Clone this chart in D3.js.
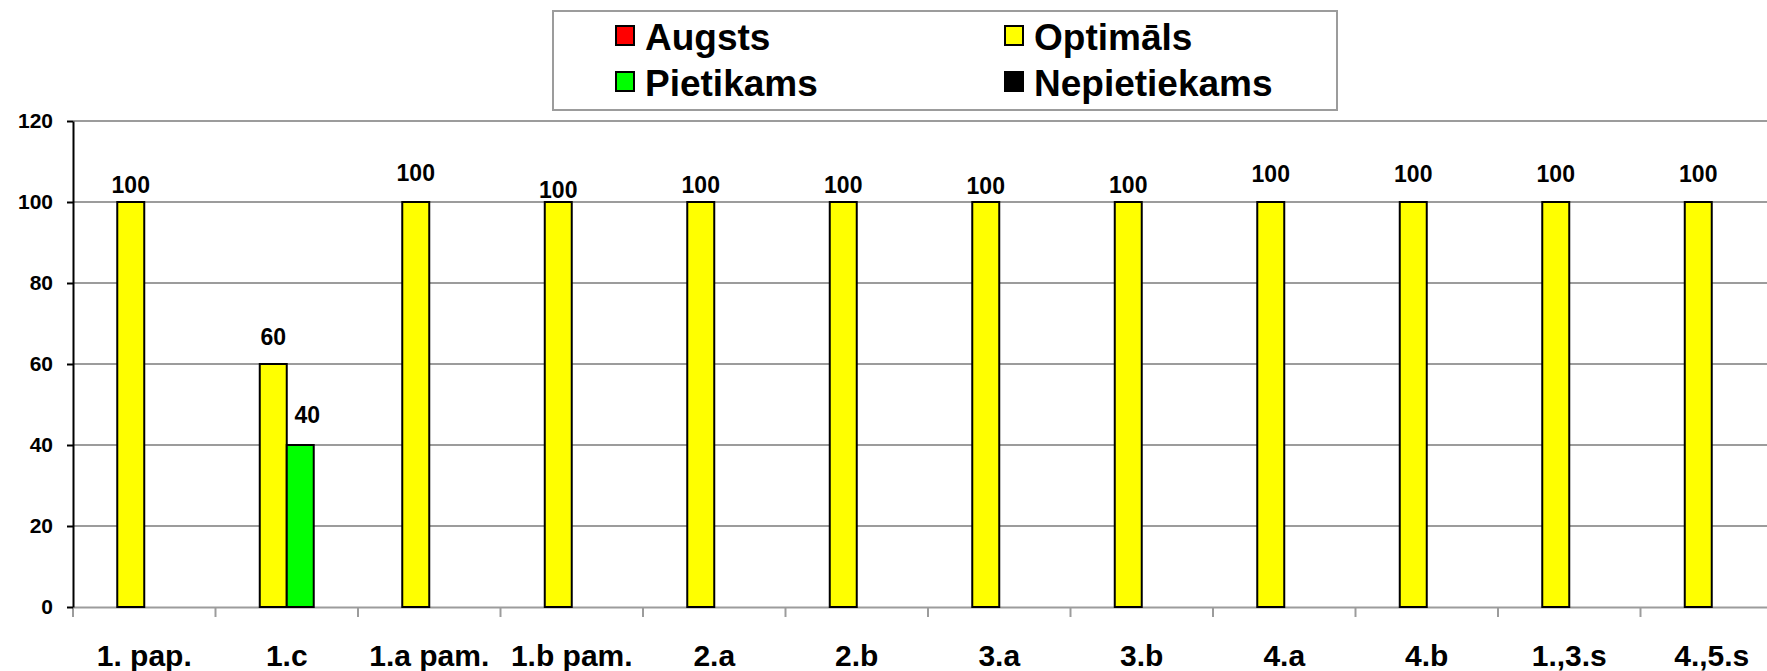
<!DOCTYPE html>
<html>
<head>
<meta charset="utf-8">
<script src="https://cdn.jsdelivr.net/npm/d3@7/dist/d3.min.js"></script>
<style>
  body { margin: 0; background: #fff; }
  text { font-family: "Liberation Sans", Arial, sans-serif; font-weight: bold; fill: #000; }
</style>
</head>
<body>
<div id="chart"></div>
<script>
// categories and the four series
var categories = ["1. pap.", "1.c", "1.a pam.", "1.b pam.", "2.a", "2.b", "3.a", "3.b", "4.a", "4.b", "1.,3.s", "4.,5.s"];
var seriesNames = ["Augsts", "Optimāls", "Pietikams", "Nepietiekams"];
var seriesColors = ["#ff0000", "#ffff00", "#00ff00", "#000000"];

var augsts = [null, null, null, null, null, null, null, null, null, null, null, null];
var optimals = [100, 60, 100, 100, 100, 100, 100, 100, 100, 100, 100, 100];
var pietikams = [null, 40, null, null, null, null, null, null, null, null, null, null];
var nepietiekams = [null, null, null, null, null, null, null, null, null, null, null, null];

var yTicks = [0, 20, 40, 60, 80, 100, 120];

// the data labels were dragged by hand in the original, so each has its own lift
var liftOptimals = [9, 19, 21, 4, 9, 9, 8, 9, 20, 20, 20, 20];
var liftPietikams = [0, 22, 0, 0, 0, 0, 0, 0, 0, 0, 0, 0];

const width = 1767;
const height = 671;
const plot = {left: 73, top: 121, bottom: 607, step: 142.5};

var values = [augsts, optimals, pietikams, nepietiekams];
var lifts = [null, liftOptimals, liftPietikams, null];

var svg = d3.select("#chart")
    .append("svg")
    .attr("width", width)
    .attr("height", height);

// x-schaal voor de groepen en binnen elke groep
var xScale = d3.scaleBand()
    .domain(categories)
    .range([plot.left, plot.left + plot.step * categories.length]);

var xInner = d3.scaleBand()
    .domain(seriesNames)
    .range([0, xScale.bandwidth()])
    .paddingInner(0)
    .paddingOuter(0.64);

var yScale = d3.scaleLinear()
    .domain([0, 120])
    .range([plot.bottom, plot.top]);

// horizontal gridlines
svg.append("g")
    .attr("class", "grid")
    .selectAll("line")
    .data(yTicks.filter(function(d) { return d > 0; }))
    .enter()
    .append("line")
    .attr("x1", plot.left)
    .attr("x2", xScale.range()[1])
    .attr("y1", function(d) { return yScale(d); })
    .attr("y2", function(d) { return yScale(d); })
    .attr("stroke", "#9c9c9c")
    .attr("stroke-width", 2);

// x axis: grey line, ticks on the category borders, labels in the middle
var xAxis = svg.append("g")
    .attr("class", "x-axis")
    .attr("transform", "translate(0," + plot.bottom + ")")
    .call(d3.axisBottom(xScale).tickSize(0).tickSizeOuter(0));

xAxis.select(".domain")
    .attr("stroke", "#9c9c9c")
    .attr("stroke-width", 2);

xAxis.selectAll("text")
    .attr("y", 59)
    .attr("dy", 0)
    .style("font-size", "30px");

xAxis.selectAll("line.border")
    .data(categories.map(function(d) { return xScale(d); }).concat([xScale.range()[1]]))
    .enter()
    .append("line")
    .attr("class", "border")
    .attr("x1", function(d) { return d; })
    .attr("x2", function(d) { return d; })
    .attr("y1", 0)
    .attr("y2", 10)
    .attr("stroke", "#9c9c9c")
    .attr("stroke-width", 2);

// bars
var bars = [];
values.forEach(function(serie, i) {
  serie.forEach(function(v, j) {
    if (v !== null) {
      bars.push({
        cat: categories[j],
        name: seriesNames[i],
        value: v,
        color: seriesColors[i],
        lift: lifts[i] ? lifts[i][j] : 8
      });
    }
  });
});

svg.append("g")
    .attr("class", "bars")
    .selectAll("rect")
    .data(bars)
    .enter()
    .append("rect")
    .attr("x", function(d) { return xScale(d.cat) + xInner(d.name); })
    .attr("y", function(d) { return yScale(d.value); })
    .attr("width", xInner.bandwidth())
    .attr("height", function(d) { return yScale(0) - yScale(d.value); })
    .attr("fill", function(d) { return d.color; })
    .attr("stroke", "#000")
    .attr("stroke-width", 2);

// y axis on top of the bars' baseline
var yAxis = svg.append("g")
    .attr("class", "y-axis")
    .attr("transform", "translate(" + plot.left + ",0)")
    .call(d3.axisLeft(yScale)
      .tickValues(yTicks)
      .tickSize(6)
      .tickSizeOuter(0)
      .tickPadding(14)
      .tickFormat(d3.format("d")));

yAxis.select(".domain")
    .attr("stroke", "#000")
    .attr("stroke-width", 2);

yAxis.selectAll(".tick line")
    .attr("stroke", "#000")
    .attr("stroke-width", 2);

yAxis.selectAll("text")
    .style("font-size", "21px");

// data labels
svg.append("g")
    .attr("class", "labels")
    .selectAll("text")
    .data(bars)
    .enter()
    .append("text")
    .attr("x", function(d) {
      var shift = d.name === "Pietikams" ? 7 : 0;
      return xScale(d.cat) + xInner(d.name) + xInner.bandwidth() / 2 + shift; })
    .attr("y", function(d) { return yScale(d.value) - d.lift; })
    .attr("text-anchor", "middle")
    .style("font-size", "23px")
    .text(function(d) { return d.value; });

// legend
var legend = svg.append("g").attr("class", "legend");

legend.append("rect")
    .attr("x", 553)
    .attr("y", 11)
    .attr("width", 784)
    .attr("height", 99)
    .attr("fill", "#fff")
    .attr("stroke", "#9c9c9c")
    .attr("stroke-width", 2);

var item = legend.selectAll("g.item")
    .data(seriesNames)
    .enter()
    .append("g")
    .attr("class", "item")
    .attr("transform", function(d, i) {
      return "translate(" + [616, 1005][i % 2] + "," + (Math.floor(i / 2) * 46) + ")"; });

item.append("rect")
    .attr("x", 0)
    .attr("y", 26)
    .attr("width", 18)
    .attr("height", 19)
    .attr("fill", function(d, i) { return seriesColors[i]; })
    .attr("stroke", "#000")
    .attr("stroke-width", 2);

item.append("text")
    .attr("x", 29)
    .attr("y", 50)
    .style("font-size", "37px")
    .text(function(d) { return d; });
</script>
</body>
</html>
